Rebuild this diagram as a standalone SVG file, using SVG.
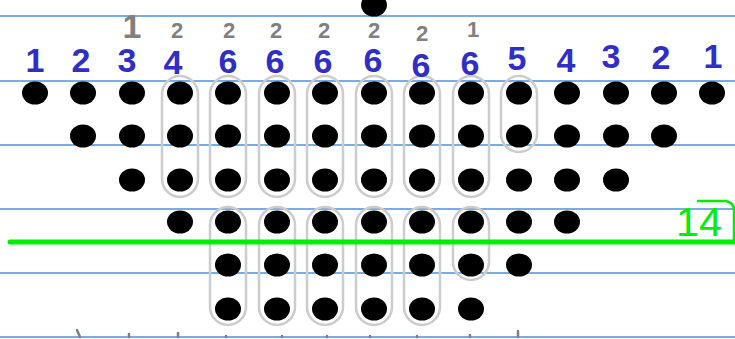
<svg xmlns="http://www.w3.org/2000/svg" width="735" height="339" viewBox="0 0 735 339">
<style>
.rule{stroke:#4a90e2;stroke-width:1.5}
.dot{fill:#000}
.cap{fill:none;stroke:#cccccc;stroke-width:2.5}
.blue{font-family:"Liberation Sans",Arial,sans-serif;font-size:34px;font-weight:bold;fill:#2f2fc8;text-anchor:middle}
.gray{font-family:"Liberation Sans",Arial,sans-serif;font-size:22px;font-weight:bold;fill:#808080;text-anchor:middle}
.tick{stroke:#808080;stroke-width:2.5;stroke-linecap:round}
</style>
<rect width="735" height="339" fill="#fff"/>
<g id="rules">
<line class="rule" x1="0" y1="16" x2="735" y2="16"/>
<line class="rule" x1="0" y1="81" x2="735" y2="81"/>
<line class="rule" x1="0" y1="145" x2="735" y2="145"/>
<line class="rule" x1="0" y1="209" x2="735" y2="209"/>
<line class="rule" x1="0" y1="273" x2="735" y2="273"/>
<line class="rule" x1="0" y1="337" x2="735" y2="337"/>
</g>
<g id="capsules">
<rect class="cap" x="162" y="76" width="36" height="121" rx="18"/>
<rect class="cap" x="210" y="76" width="36" height="121" rx="18"/>
<rect class="cap" x="259" y="76" width="36" height="121" rx="18"/>
<rect class="cap" x="307" y="76" width="36" height="121" rx="18"/>
<rect class="cap" x="356" y="76" width="36" height="121" rx="18"/>
<rect class="cap" x="404" y="76" width="36" height="121" rx="18"/>
<rect class="cap" x="453" y="76" width="36" height="121" rx="18"/>
<rect class="cap" x="501" y="76" width="36" height="76" rx="18"/>
<rect class="cap" x="210" y="207" width="36" height="118" rx="18"/>
<rect class="cap" x="259" y="207" width="36" height="118" rx="18"/>
<rect class="cap" x="307" y="207" width="36" height="118" rx="18"/>
<rect class="cap" x="356" y="207" width="36" height="118" rx="18"/>
<rect class="cap" x="404" y="207" width="36" height="118" rx="18"/>
<rect class="cap" x="453" y="207" width="36" height="73" rx="18"/>
</g>
<g id="dots">
<ellipse class="dot" cx="374" cy="5" rx="13" ry="11.5"/>
<g id="row1">
<ellipse class="dot" cx="35" cy="93" rx="13" ry="11.5"/>
<ellipse class="dot" cx="83" cy="93" rx="13" ry="11.5"/>
<ellipse class="dot" cx="132" cy="93" rx="13" ry="11.5"/>
<ellipse class="dot" cx="180" cy="93" rx="13" ry="11.5"/>
<ellipse class="dot" cx="228" cy="93" rx="13" ry="11.5"/>
<ellipse class="dot" cx="277" cy="93" rx="13" ry="11.5"/>
<ellipse class="dot" cx="325" cy="93" rx="13" ry="11.5"/>
<ellipse class="dot" cx="374" cy="93" rx="13" ry="11.5"/>
<ellipse class="dot" cx="422" cy="93" rx="13" ry="11.5"/>
<ellipse class="dot" cx="471" cy="93" rx="13" ry="11.5"/>
<ellipse class="dot" cx="519" cy="93" rx="13" ry="11.5"/>
<ellipse class="dot" cx="567" cy="93" rx="13" ry="11.5"/>
<ellipse class="dot" cx="616" cy="93" rx="13" ry="11.5"/>
<ellipse class="dot" cx="664" cy="93" rx="13" ry="11.5"/>
<ellipse class="dot" cx="712" cy="93" rx="13" ry="11.5"/>
</g>
<g id="row2">
<ellipse class="dot" cx="83" cy="136" rx="13" ry="11.5"/>
<ellipse class="dot" cx="132" cy="136" rx="13" ry="11.5"/>
<ellipse class="dot" cx="180" cy="136" rx="13" ry="11.5"/>
<ellipse class="dot" cx="228" cy="136" rx="13" ry="11.5"/>
<ellipse class="dot" cx="277" cy="136" rx="13" ry="11.5"/>
<ellipse class="dot" cx="325" cy="136" rx="13" ry="11.5"/>
<ellipse class="dot" cx="374" cy="136" rx="13" ry="11.5"/>
<ellipse class="dot" cx="422" cy="136" rx="13" ry="11.5"/>
<ellipse class="dot" cx="471" cy="136" rx="13" ry="11.5"/>
<ellipse class="dot" cx="519" cy="136" rx="13" ry="11.5"/>
<ellipse class="dot" cx="567" cy="136" rx="13" ry="11.5"/>
<ellipse class="dot" cx="616" cy="136" rx="13" ry="11.5"/>
<ellipse class="dot" cx="664" cy="136" rx="13" ry="11.5"/>
</g>
<g id="row3">
<ellipse class="dot" cx="132" cy="180" rx="13" ry="11.5"/>
<ellipse class="dot" cx="180" cy="180" rx="13" ry="11.5"/>
<ellipse class="dot" cx="228" cy="180" rx="13" ry="11.5"/>
<ellipse class="dot" cx="277" cy="180" rx="13" ry="11.5"/>
<ellipse class="dot" cx="325" cy="180" rx="13" ry="11.5"/>
<ellipse class="dot" cx="374" cy="180" rx="13" ry="11.5"/>
<ellipse class="dot" cx="422" cy="180" rx="13" ry="11.5"/>
<ellipse class="dot" cx="471" cy="180" rx="13" ry="11.5"/>
<ellipse class="dot" cx="519" cy="180" rx="13" ry="11.5"/>
<ellipse class="dot" cx="567" cy="180" rx="13" ry="11.5"/>
<ellipse class="dot" cx="616" cy="180" rx="13" ry="11.5"/>
</g>
<g id="row4">
<ellipse class="dot" cx="180" cy="222" rx="13" ry="11.5"/>
<ellipse class="dot" cx="228" cy="222" rx="13" ry="11.5"/>
<ellipse class="dot" cx="277" cy="222" rx="13" ry="11.5"/>
<ellipse class="dot" cx="325" cy="222" rx="13" ry="11.5"/>
<ellipse class="dot" cx="374" cy="222" rx="13" ry="11.5"/>
<ellipse class="dot" cx="422" cy="222" rx="13" ry="11.5"/>
<ellipse class="dot" cx="471" cy="222" rx="13" ry="11.5"/>
<ellipse class="dot" cx="519" cy="222" rx="13" ry="11.5"/>
<ellipse class="dot" cx="567" cy="222" rx="13" ry="11.5"/>
</g>
<g id="row5">
<ellipse class="dot" cx="228" cy="265" rx="13" ry="11.5"/>
<ellipse class="dot" cx="277" cy="265" rx="13" ry="11.5"/>
<ellipse class="dot" cx="325" cy="265" rx="13" ry="11.5"/>
<ellipse class="dot" cx="374" cy="265" rx="13" ry="11.5"/>
<ellipse class="dot" cx="422" cy="265" rx="13" ry="11.5"/>
<ellipse class="dot" cx="471" cy="265" rx="13" ry="11.5"/>
<ellipse class="dot" cx="519" cy="265" rx="13" ry="11.5"/>
</g>
<g id="row6">
<ellipse class="dot" cx="228" cy="309" rx="13" ry="11.5"/>
<ellipse class="dot" cx="277" cy="309" rx="13" ry="11.5"/>
<ellipse class="dot" cx="325" cy="309" rx="13" ry="11.5"/>
<ellipse class="dot" cx="374" cy="309" rx="13" ry="11.5"/>
<ellipse class="dot" cx="422" cy="309" rx="13" ry="11.5"/>
<ellipse class="dot" cx="471" cy="309" rx="13" ry="11.5"/>
</g>
</g>
<g id="blue-counts">
<text class="blue" x="35" y="72">1</text>
<text class="blue" x="81" y="72">2</text>
<text class="blue" x="127" y="72">3</text>
<text class="blue" x="173" y="74">4</text>
<text class="blue" x="228" y="73">6</text>
<text class="blue" x="275" y="73">6</text>
<text class="blue" x="323" y="73">6</text>
<text class="blue" x="373" y="72">6</text>
<text class="blue" x="421" y="77">6</text>
<text class="blue" x="470" y="75">6</text>
<text class="blue" x="517" y="70">5</text>
<text class="blue" x="566" y="72">4</text>
<text class="blue" x="611" y="68">3</text>
<text class="blue" x="661" y="69">2</text>
<text class="blue" x="713" y="68">1</text>
</g>
<g id="gray-counts">
<text class="gray" x="132" y="38" style="font-size:34px">1</text>
<text class="gray" x="177" y="38">2</text>
<text class="gray" x="229" y="38">2</text>
<text class="gray" x="276" y="38">2</text>
<text class="gray" x="324" y="38">2</text>
<text class="gray" x="374" y="38">2</text>
<text class="gray" x="422" y="41">2</text>
<text class="gray" x="473" y="37">1</text>
</g>
<g id="ticks">
<line class="tick" x1="77" y1="330" x2="80" y2="337"/>
<line class="tick" x1="129" y1="334" x2="129" y2="337"/>
<line class="tick" x1="178" y1="333" x2="178" y2="337"/>
<line class="tick" x1="226" y1="336" x2="226" y2="337"/>
<line class="tick" x1="282" y1="336" x2="282" y2="337"/>
<line class="tick" x1="327" y1="336" x2="327" y2="337"/>
<line class="tick" x1="370" y1="336" x2="370" y2="337"/>
<line class="tick" x1="417" y1="336" x2="417" y2="337"/>
<line class="tick" x1="470" y1="335" x2="470" y2="337"/>
<line class="tick" x1="518" y1="331" x2="518" y2="337"/>
</g>
<g id="total">
<line x1="10" y1="242" x2="735" y2="242" stroke="#00ee00" stroke-width="5" stroke-linecap="round"/>
<path d="M697 201 L726 201 Q734 203 734 210 L734 242" fill="none" stroke="#00ee00" stroke-width="2.5"/>
<text x="676" y="236" style="font-family:'Liberation Sans',Arial,sans-serif;font-size:40px;fill:#00ee00" textLength="46" lengthAdjust="spacingAndGlyphs">14</text>
</g>
</svg>
